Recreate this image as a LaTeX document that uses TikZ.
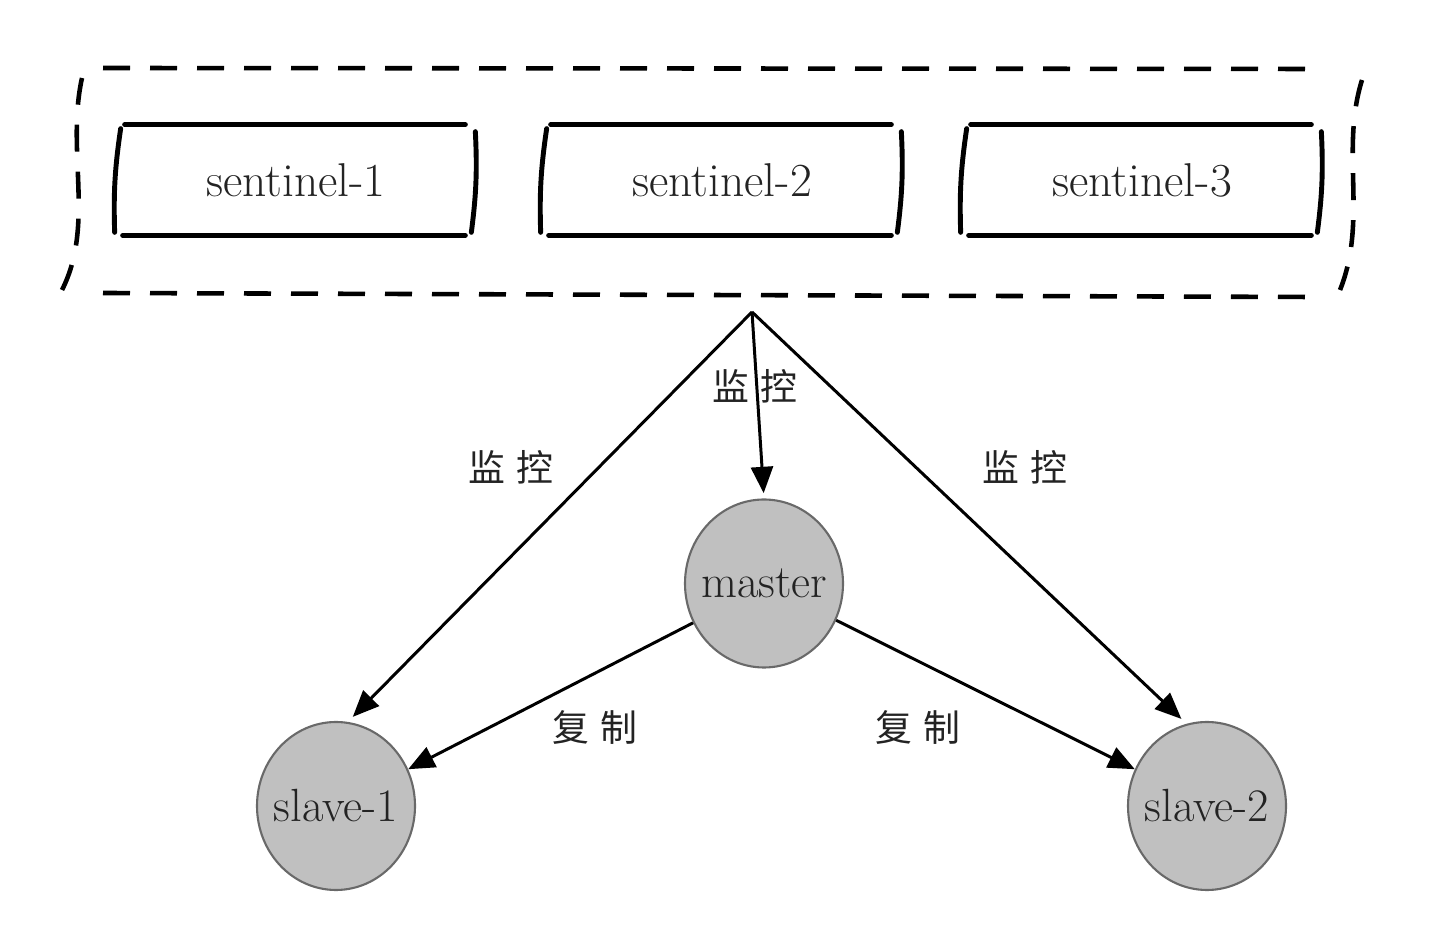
\documentclass[tikz,border=0pt]{standalone}
\usepackage{fontspec}
\newfontfamily\cjk{Noto Sans CJK SC}
\usetikzlibrary{arrows.meta,shapes.geometric}
\definecolor{inkgray}{RGB}{35,35,35}
\definecolor{nodefill}{RGB}{192,192,192}
\definecolor{nodeline}{RGB}{105,105,105}

\begin{document}
\begin{tikzpicture}[x=1cm,y=1cm,
  sentinel/.style={minimum width=7.16cm,minimum height=2.2cm,inner sep=0pt,text=inkgray,font=\fontsize{27}{32}\selectfont},
  sketch/.style={line width=2.8pt,line cap=round},
  group/.style={line width=2.6pt,dash pattern=on 0.54cm off 0.4cm},
  redis/.style={ellipse,draw=nodeline,fill=nodefill,line width=1.2pt,minimum width=3.16cm,minimum height=3.36cm,inner xsep=-0.3cm,inner ysep=0pt,text=inkgray,font=\fontsize{26.5}{32}\selectfont},
  link/.style={line width=1.7pt,-{Triangle[length=15pt,width=12.5pt]}},
  tag/.style={inner sep=0pt,text=inkgray,font=\cjk\fontsize{21}{24}\selectfont}]
\path[use as bounding box] (0,0) rectangle (29.04,18.68);
\draw[group] (2.06,17.32) -- (26.20,17.30);
\draw[group] (2.06,12.82) -- (26.20,12.74);
\draw[group] (1.64,17.12) .. controls (1.32,15.68) and (1.90,14.18) .. (1.24,12.88);
\draw[group] (27.24,17.08) .. controls (26.80,15.68) and (27.36,14.28) .. (26.80,12.88);
\node[sentinel] (s1) at (5.92,15.08) {sentinel-1};
\node[sentinel] (s2) at (14.44,15.08) {sentinel-2};
\node[sentinel] (s3) at (22.84,15.08) {sentinel-3};
\foreach \sn in {s1,s2,s3}{
  \draw[sketch] ([xshift=0.16cm]\sn.north west) -- ([xshift=-0.2cm]\sn.north east);
  \draw[sketch] ([xshift=0.12cm]\sn.south west) -- ([xshift=-0.2cm]\sn.south east);
  \draw[sketch] ([xshift=0.08cm,yshift=-0.08cm]\sn.north west) to[bend right=5] ([xshift=-0.04cm,yshift=0.06cm]\sn.south west);
  \draw[sketch] ([yshift=-0.14cm]\sn.north east) to[bend left=5] ([xshift=-0.08cm,yshift=0.06cm]\sn.south east);
}
\coordinate (apex) at (15.04,12.44);
\node[redis] (master) at (15.28,7.01) {master};
\node[redis] (slave1) at (6.72,2.56) {slave-1};
\node[redis] (slave2) at (24.14,2.56) {slave-2};
\draw[link,shorten >=4pt] (apex) -- (slave1.82);
\draw[link,shorten >=3pt] (apex) -- (master.north);
\draw[link,shorten >=4pt] (apex) -- (slave2.104);
\draw[link] (master.209) -- (slave1.27);
\draw[link] (master.333) -- (slave2.153);
\node[tag] (mon1) at (10.22,9.34) {监\hspace{0.28em}控};
\node[tag] (mon2) at (15.10,10.96) {监\hspace{0.28em}控};
\node[tag] (mon3) at (20.50,9.34) {监\hspace{0.28em}控};
\node[tag] (rep1) at (11.90,4.14) {复\hspace{0.28em}制};
\node[tag] (rep2) at (18.36,4.14) {复\hspace{0.28em}制};
\end{tikzpicture}
\end{document}
